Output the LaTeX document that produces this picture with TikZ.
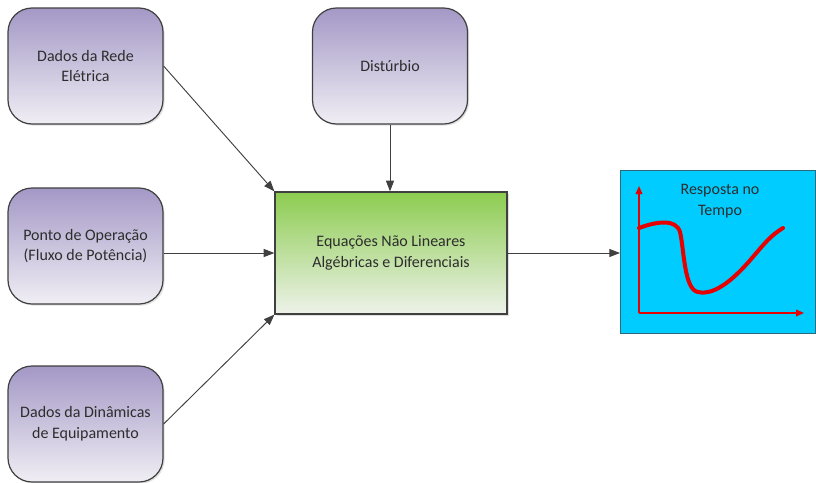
\documentclass[tikz,border=0pt]{standalone}
\usepackage{fontspec}
\setmainfont{Carlito}
\usetikzlibrary{arrows.meta,shadows}
\definecolor{inpTop}{RGB}{164,152,198}
\definecolor{inpBot}{RGB}{240,238,244}
\definecolor{eqTop}{RGB}{140,204,80}
\definecolor{eqBot}{RGB}{238,242,234}
\definecolor{edgeC}{RGB}{64,64,64}
\definecolor{txtC}{RGB}{45,45,45}
\definecolor{respC}{RGB}{0,204,255}
\definecolor{curveC}{RGB}{230,0,0}
\tikzset{
  lbl/.style={text=txtC, align=center, font=\fontsize{12}{15.5}\selectfont},
  inbox/.style={lbl, draw=edgeC, line width=0.9pt, rounded corners=18pt,
    top color=inpTop, bottom color=inpBot, minimum width=155*0.75pt,
    minimum height=116*0.75pt,
    drop shadow={shadow xshift=1.2pt, shadow yshift=-1.2pt, opacity=0.25}},
  eqbox/.style={lbl, draw=edgeC, line width=0.9pt, top color=eqTop, bottom color=eqBot,
    minimum width=232*0.75pt, minimum height=122*0.75pt,
    drop shadow={shadow xshift=1.2pt, shadow yshift=-1.2pt, opacity=0.25}},
  respbox/.style={draw=edgeC!70!respC, line width=0.6pt, fill=respC,
    minimum width=195*0.75pt, minimum height=163*0.75pt},
  flow/.style={draw=edgeC, line width=0.7pt, -{Triangle[length=8pt,width=6pt]}},
  axis/.style={draw=curveC, line width=1.2pt, -{Triangle[length=6pt,width=5pt]}},
}
\begin{document}
\begin{tikzpicture}[x=0.75pt,y=-0.75pt]
  \useasboundingbox (0,0) rectangle (816,482);
  % input blocks
  \node[inbox] (rede) at (85.5,66) {Dados da Rede\\Elétrica};
  \node[inbox] (ponto) at (85.5,246) {Ponto de Operação\\(Fluxo de Potência)};
  \node[inbox] (dinam) at (85.5,424) {Dados da Dinâmicas\\de Equipamento};
  \node[inbox] (dist) at (390,66) {Distúrbio};
  % central block
  \node[eqbox] (eq) at (391,253) {Equações Não Lineares\\Algébricas e Diferenciais};
  % response block
  \node[respbox, anchor=north west] (resp) at (620,170) {};
  \node[lbl] (resptxt) at (720,201) {Resposta no\\Tempo};
  % connectors
  \draw[flow] (rede.east) -- (eq.north west);
  \draw[flow] (dist.south) -- (eq.north -| dist.south);
  \draw[flow] (ponto.east |- eq.west) -- (eq.west);
  \draw[flow] (dinam.east) -- (eq.south west);
  \draw[flow] (eq.east) -- (resp.west |- eq.east);
  % time response sketch
  \coordinate (orig) at (639,313);
  \coordinate (ytop) at (639,186);
  \coordinate (xend) at (804,313);
  \draw[axis] (orig) -- (ytop);
  \draw[axis] (orig) -- (xend);
  \draw[curveC, line width=3pt, line cap=round, line join=round]
    (639,228) .. controls (655,222) and (676,218) .. (680,232)
    .. controls (684,248) and (684,290) .. (698,292)
    .. controls (715,296) and (735,278) .. (752,258)
    .. controls (765,243) and (770,236) .. (783,228);
\end{tikzpicture}
\end{document}
